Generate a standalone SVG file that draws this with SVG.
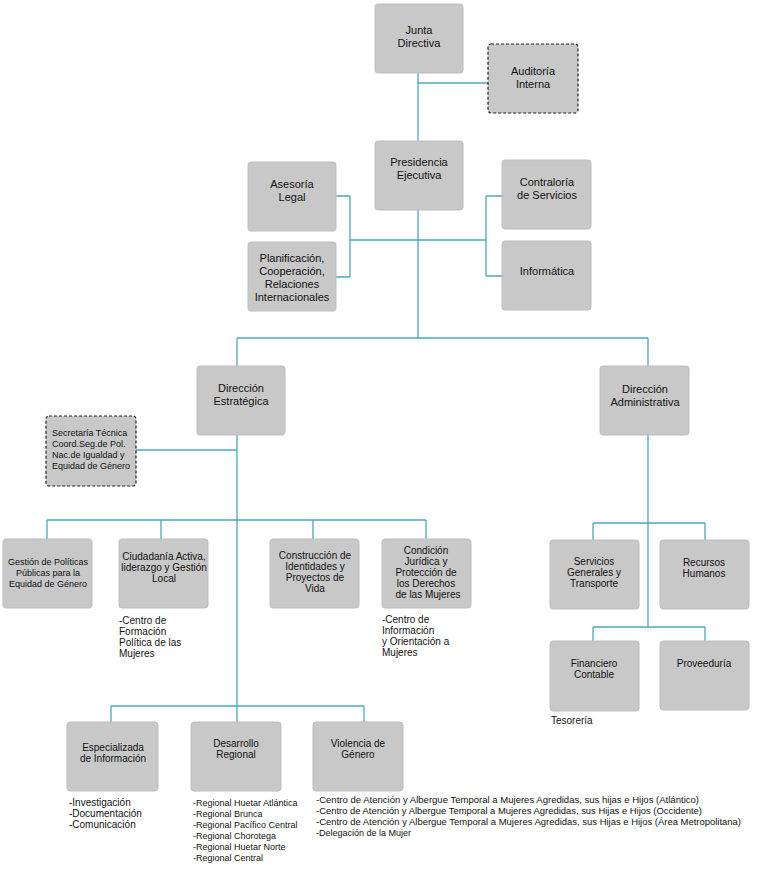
<svg xmlns="http://www.w3.org/2000/svg" width="761" height="870" viewBox="0 0 761 870">
<style>
.b{fill:#c8c8c8;stroke:#bdbdbd;stroke-width:1}
.d{fill:#c8c8c8;stroke:#222;stroke-width:1.2;stroke-dasharray:3,2}
text{font-family:"Liberation Sans",Arial,sans-serif;font-size:10px;fill:#111}
.c{text-anchor:middle}
.m{font-size:11px}
.s{font-size:9px}
#conn path{fill:none;stroke:#4aa9b8;stroke-width:1.3}
</style>
<rect width="761" height="870" fill="#fff"/>
<g id="conn">
<path d="M418 73V338M418 83H488M350 196V277M336 196H350M336 277H350M350 240H486M486 196V276M486 196H502M486 276H502M237 338H648M237 338V366M648 338V366"/>
<path d="M237 435V706M136 450H237M47 520H426M47 520V539M161 520V539M313 520V539M426 520V539M111 706H364M111 706V722M237 706V722M364 706V722"/>
<path d="M648 435V627M593 523H705M593 523V540M705 523V540M593 627H705M593 627V641M705 627V641"/>
</g>
<g id="junta"><rect class="b" x="375" y="4" width="88" height="69" rx="3"/><text class="c m" x="419" y="34">Junta</text><text class="c m" x="419" y="47">Directiva</text></g>
<g id="auditoria"><rect class="d" x="488" y="44" width="90" height="69" rx="3"/><text class="c m" x="533" y="75">Auditoría</text><text class="c m" x="533" y="88">Interna</text></g>
<g id="presidencia"><rect class="b" x="375" y="141" width="88" height="69" rx="3"/><text class="c m" x="419" y="166">Presidencia</text><text class="c m" x="419" y="179">Ejecutiva</text></g>
<g id="asesoria"><rect class="b" x="248" y="162" width="88" height="69" rx="3"/><text class="c m" x="292" y="188">Asesoría</text><text class="c m" x="292" y="201">Legal</text></g>
<g id="planificacion"><rect class="b" x="248" y="242" width="88" height="69" rx="3"/><text class="c m" x="292" y="262">Planificación,</text><text class="c m" x="292" y="275">Cooperación,</text><text class="c m" x="292" y="288">Relaciones</text><text class="c m" x="292" y="301">Internacionales</text></g>
<g id="contraloria"><rect class="b" x="502" y="160" width="89" height="69" rx="3"/><text class="c m" x="547" y="186">Contraloría</text><text class="c m" x="547" y="199">de Servicios</text></g>
<g id="informatica"><rect class="b" x="502" y="241" width="89" height="69" rx="3"/><text class="c m" x="547" y="275">Informática</text></g>
<g id="destrategica"><rect class="b" x="197" y="366" width="88" height="69" rx="3"/><text class="c m" x="241" y="392">Dirección</text><text class="c m" x="241" y="405">Estratégica</text></g>
<g id="dadministrativa"><rect class="b" x="600" y="366" width="89" height="69" rx="3"/><text class="c m" x="645" y="393">Dirección</text><text class="c m" x="645" y="406">Administrativa</text></g>
<g id="secretaria"><rect class="d" x="46" y="416" width="90" height="70" rx="3"/><text class="s" x="52" y="436">Secretaría Técnica</text><text class="s" x="52" y="447">Coord.Seg.de Pol.</text><text class="s" x="52" y="458">Nac.de Igualdad y</text><text class="s" x="52" y="469">Equidad de Género</text></g>
<g id="gestion"><rect class="b" x="3" y="539" width="89" height="69" rx="3"/><text class="c s" x="48" y="565">Gestión de Políticas</text><text class="c s" x="48" y="576">Públicas para la</text><text class="c s" x="48" y="587">Equidad de Género</text></g>
<g id="ciudadania"><rect class="b" x="119" y="539" width="89" height="69" rx="3"/><text class="c" x="164" y="560">Ciudadanía Activa,</text><text class="c" x="164" y="571">liderazgo y Gestión</text><text class="c" x="164" y="582">Local</text>
<text x="119" y="624">-Centro de</text><text x="119" y="635">Formación</text><text x="119" y="646">Política de las</text><text x="119" y="657">Mujeres</text></g>
<g id="construccion"><rect class="b" x="270" y="539" width="89" height="69" rx="3"/><text class="c" x="315" y="559">Construcción de</text><text class="c" x="315" y="570">Identidades y</text><text class="c" x="315" y="581">Proyectos de</text><text class="c" x="315" y="592">Vida</text></g>
<g id="condicion"><rect class="b" x="382" y="539" width="89" height="69" rx="3"/><text class="c" x="426" y="554">Condición</text><text class="c" x="426" y="565">Jurídica y</text><text class="c" x="426" y="576">Protección de</text><text class="c" x="426" y="587">los Derechos</text><text class="c" x="428" y="598">de las Mujeres</text>
<text x="382" y="623">-Centro de</text><text x="382" y="634">Información</text><text x="382" y="645">y Orientación a</text><text x="382" y="656">Mujeres</text></g>
<g id="especializada"><rect class="b" x="67" y="722" width="91" height="69" rx="3"/><text class="c" x="113" y="751">Especializada</text><text class="c" x="113" y="762">de Información</text>
<text x="69" y="806">-Investigación</text><text x="69" y="817">-Documentación</text><text x="69" y="828">-Comunicación</text></g>
<g id="desarrollo"><rect class="b" x="191" y="722" width="90" height="69" rx="3"/><text class="c" x="236" y="747">Desarrollo</text><text class="c" x="236" y="758">Regional</text>
<text class="s" x="193" y="806">-Regional Huetar Atlántica</text><text class="s" x="193" y="817">-Regional Brunca</text><text class="s" x="193" y="828">-Regional Pacífico Central</text><text class="s" x="193" y="839">-Regional Chorotega</text><text class="s" x="193" y="850">-Regional Huetar Norte</text><text class="s" x="193" y="861">-Regional Central</text></g>
<g id="violencia"><rect class="b" x="313" y="722" width="90" height="69" rx="3"/><text class="c" x="358" y="747">Violencia de</text><text class="c" x="358" y="758">Género</text>
<text class="s" x="316" y="803" textLength="383" lengthAdjust="spacingAndGlyphs">-Centro de Atención y Albergue Temporal a Mujeres Agredidas, sus hijas e Hijos (Atlántico)</text><text class="s" x="316" y="814" textLength="386" lengthAdjust="spacingAndGlyphs">-Centro de Atención y Albergue Temporal a Mujeres Agredidas, sus Hijas e Hijos (Occidente)</text><text class="s" x="316" y="825" textLength="425" lengthAdjust="spacingAndGlyphs">-Centro de Atención y Albergue Temporal a Mujeres Agredidas, sus Hijas e Hijos (Área Metropolitana)</text><text class="s" x="316" y="836">-Delegación de la Mujer</text></g>
<g id="servicios"><rect class="b" x="550" y="540" width="89" height="69" rx="3"/><text class="c" x="594" y="565">Servicios</text><text class="c" x="594" y="576">Generales y</text><text class="c" x="594" y="587">Transporte</text></g>
<g id="recursos"><rect class="b" x="660" y="540" width="89" height="69" rx="3"/><text class="c" x="704" y="566">Recursos</text><text class="c" x="704" y="577">Humanos</text></g>
<g id="financiero"><rect class="b" x="550" y="641" width="89" height="70" rx="3"/><text class="c" x="594" y="667">Financiero</text><text class="c" x="594" y="678">Contable</text><text x="551" y="724">Tesorería</text></g>
<g id="proveeduria"><rect class="b" x="660" y="641" width="89" height="69" rx="3"/><text class="c" x="704" y="667">Proveeduría</text></g>
</svg>
